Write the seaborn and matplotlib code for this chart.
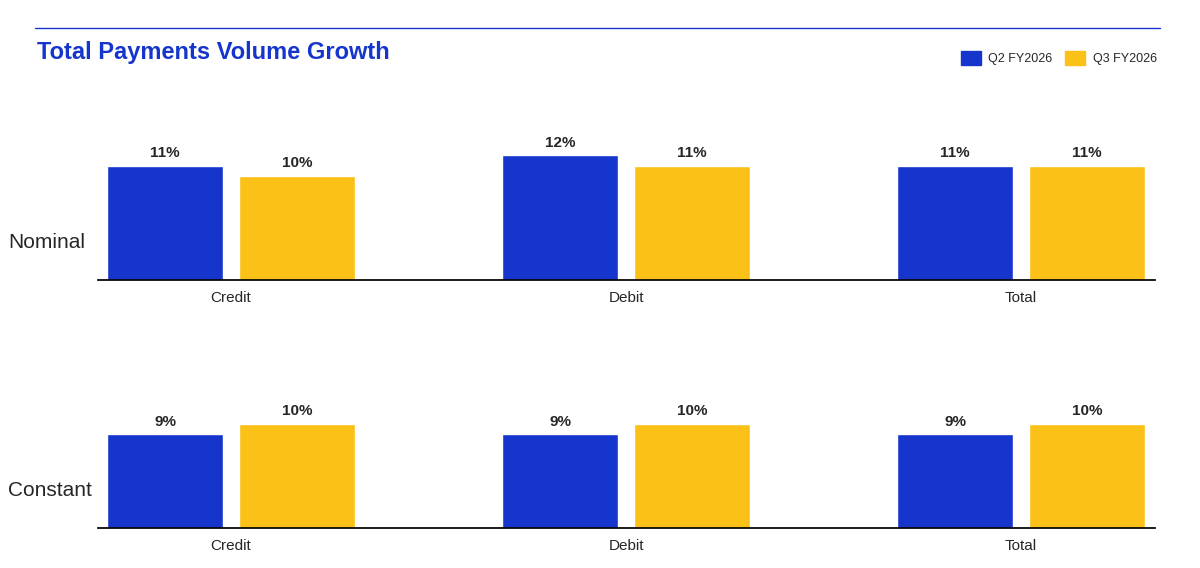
import matplotlib
matplotlib.use("Agg")
import matplotlib.pyplot as plt
import seaborn as sns
import pandas as pd
from matplotlib.patches import Patch
from matplotlib.lines import Line2D

categories = ["Credit", "Debit", "Total"]
series = ["Q2 FY2026", "Q3 FY2026"]
nominal_q2 = [11, 12, 11]
nominal_q3 = [10, 11, 11]
constant_q2 = [9, 9, 9]
constant_q3 = [10, 10, 10]
colors = ["#1535CC", "#FBC117"]

sns.set_theme(style="white")
plt.rcParams['font.family'] = ['Liberation Sans', 'DejaVu Sans']

fig = plt.figure(figsize=(12, 5.68), dpi=100)
fig.add_artist(Line2D([35/1200, 1160/1200], [1-28/568]*2, color="#1535CC", lw=1))
fig.text(37/1200, 1-52/568, "Total Payments Volume Growth", color="#1535CC",
         fontsize=17, fontweight="bold", va="center")
fig.legend(handles=[Patch(color=c, label=s) for c, s in zip(colors, series)],
           loc="center right", bbox_to_anchor=(1168/1200, 1-58/568), ncol=2,
           frameon=False, fontsize=9, handlelength=1.6, handleheight=1.3,
           columnspacing=1.0, handletextpad=0.6)

def panel(bottom_px, q2, q3, label):
    ax = fig.add_axes([98/1200, 1-bottom_px/568, 1057/1200, 180/568])
    df = pd.DataFrame({"cat": categories*2, "val": q2+q3,
                       "series": [series[0]]*3 + [series[1]]*3})
    sns.barplot(data=df, x="cat", y="val", hue="series", palette=colors,
                width=0.667, gap=0.117, ax=ax, legend=False, saturation=1)
    for c in ax.containers:
        ax.bar_label(c, labels=[f"{v:.0f}%" for v in c.datavalues],
                     padding=4, fontsize=11, fontweight="bold")
    ax.set_xlim(-0.337, 2.339)
    ax.set_ylim(0, 17.3)
    ax.set_xlabel(""); ax.set_ylabel("")
    ax.set_yticks([])
    for s in ["top", "right", "left"]:
        ax.spines[s].set_visible(False)
    ax.spines["bottom"].set_color("black")
    ax.tick_params(axis="x", length=0, labelsize=11, pad=8)
    fig.text(8/1200, 1-(bottom_px-38)/568, label, fontsize=15, va="center")

panel(280, nominal_q2, nominal_q3, "Nominal")
panel(528, constant_q2, constant_q3, "Constant")
fig.savefig("out.png", dpi=100)
